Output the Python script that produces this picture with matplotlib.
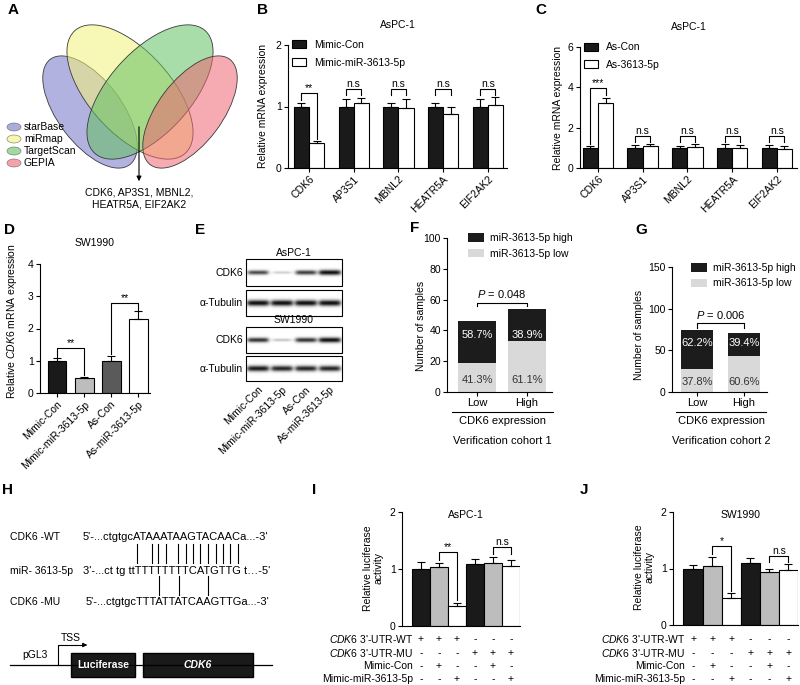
import numpy as np
import matplotlib
matplotlib.use('Agg')
import matplotlib.pyplot as plt
from matplotlib.patches import Ellipse, Rectangle, Patch
from matplotlib.transforms import blended_transform_factory

plt.rcParams['font.family'] = ['Liberation Sans', 'DejaVu Sans']
plt.rcParams['mathtext.fontset'] = 'custom'
plt.rcParams['mathtext.rm'] = 'Liberation Sans'
plt.rcParams['mathtext.it'] = 'Liberation Sans:italic'
plt.rcParams['mathtext.bf'] = 'Liberation Sans:bold'
plt.rcParams['axes.linewidth'] = 0.8

# ---- data ----
venn_sets = ['starBase', 'miRmap', 'TargetScan', 'GEPIA']
venn_colors = ['#7474c8', '#f2f27a', '#62c062', '#ef6674']
common_targets = ['CDK6, AP3S1, MBNL2,', 'HEATR5A, EIF2AK2']

genes = ['CDK6', 'AP3S1', 'MBNL2', 'HEATR5A', 'EIF2AK2']
b_con = [1.0, 1.0, 1.0, 1.0, 1.0]
b_con_err = [0.06, 0.13, 0.06, 0.06, 0.12]
b_mimic = [0.40, 1.05, 0.98, 0.88, 1.03]
b_mimic_err = [0.04, 0.09, 0.15, 0.11, 0.13]
b_sig = ['**', 'n.s', 'n.s', 'n.s', 'n.s']

c_con = [1.0, 1.0, 1.0, 1.0, 1.0]
c_con_err = [0.09, 0.13, 0.07, 0.18, 0.13]
c_as = [3.2, 1.1, 1.02, 1.0, 0.95]
c_as_err = [0.28, 0.10, 0.15, 0.15, 0.12]
c_sig = ['***', 'n.s', 'n.s', 'n.s', 'n.s']

d_groups = ['Mimic-Con', 'Mimic-miR-3613-5p', 'As-Con', 'As-miR-3613-5p']
d_vals = [1.0, 0.45, 1.0, 2.3]
d_err = [0.08, 0.06, 0.15, 0.23]

# relative band intensity per lane (western blot)
e_aspc1_cdk6 = [0.75, 0.2, 0.8, 1.0]
e_aspc1_tub = [1.0, 1.0, 1.0, 1.0]
e_sw_cdk6 = [0.85, 0.25, 0.85, 1.0]
e_sw_tub = [0.95, 0.9, 0.9, 0.9]

cohort_groups = ['Low', 'High']
f_high = [27, 21]
f_low = [19, 33]
f_pct_high = ['58.7%', '38.9%']
f_pct_low = ['41.3%', '61.1%']
g_high = [46, 28]
g_low = [28, 43]
g_pct_high = ['62.2%', '39.4%']
g_pct_low = ['37.8%', '60.6%']

i_vals = [1.0, 1.03, 0.35, 1.08, 1.1, 1.05]
i_err = [0.13, 0.07, 0.06, 0.09, 0.11, 0.11]
j_vals = [1.0, 1.04, 0.48, 1.1, 0.93, 0.97]
j_err = [0.06, 0.17, 0.09, 0.09, 0.06, 0.11]
luc_rows = [r"$\it{CDK6}$ 3'-UTR-WT", r"$\it{CDK6}$ 3'-UTR-MU", 'Mimic-Con', 'Mimic-miR-3613-5p']
luc_signs = [['+', '+', '+', '-', '-', '-'],
             ['-', '-', '-', '+', '+', '+'],
             ['-', '+', '-', '-', '+', '-'],
             ['-', '-', '+', '-', '-', '+']]

seq_names = ['CDK6 -WT', 'miR- 3613-5p', 'CDK6 -MU']
seqs = ["5'-...ctgtgcATAAATAAGTACAACa...-3'",
        "3'-...ct tg ttTTTTTTTTCATGTTG t\u2026-5'",
        "5'-...ctgtgcTTTATTATCAAGTTGa...-3'"]
pair_wt = [137, 152, 158, 166, 178, 186, 193, 200, 208, 216, 223, 230, 238]
pair_mu = [159, 179, 208]

W, H = 800, 685
fig = plt.figure(figsize=(8, 6.85), dpi=100)


def px_axes(left, top, right, bottom):
    return fig.add_axes([left / W, 1 - bottom / H, (right - left) / W, (bottom - top) / H])


def fx(x):
    return x / W


def fy(y):
    return 1 - y / H


def style(ax, ymax, step):
    ax.spines[['top', 'right']].set_visible(False)
    ax.set_ylim(0, ymax)
    ax.set_yticks(np.arange(0, ymax + step / 2, step))
    ax.spines['left'].set_bounds(0, ymax)
    ax.tick_params(direction='out', length=3, width=0.8, labelsize=7.5, pad=1.5)


def bracket(ax, x1, x2, top, left, right, label):
    ax.plot([x1, x1, x2, x2], [left, top, top, right], color='black', lw=0.8, clip_on=False)
    ax.text((x1 + x2) / 2, top, label, ha='center', va='bottom', fontsize=7.5)


def bars_err(ax, x, vals, err, colors, w):
    ax.bar(x, vals, w, color=colors, edgecolor='black', lw=0.8)
    ax.errorbar(x, vals, yerr=[np.zeros(len(vals)), err], fmt='none', ecolor='black',
                elinewidth=0.8, capsize=3, capthick=0.8)


# ---- A: Venn ----
axA = px_axes(0, 0, 262, 215)
axA.set_xlim(0, 262)
axA.set_ylim(215, 0)
axA.axis('off')
venn_geom = [((90, 112), 132, 64, 53), ((130, 92), 165, 82, 48),
             ((150, 92), 165, 82, -48), ((190, 112), 132, 64, -53)]
for (c, w, h, ang), col in zip(venn_geom, venn_colors):
    axA.add_patch(Ellipse(c, w, h, angle=ang, fc=col, ec='none', alpha=0.55))
    axA.add_patch(Ellipse(c, w, h, angle=ang, fc='none', ec='#3a3a3a', lw=0.6))
for k, (name, col) in enumerate(zip(venn_sets, venn_colors)):
    yy = [127, 139, 151, 163][k]
    axA.add_patch(Ellipse((14, yy), 14, 8, fc=col, alpha=0.6, ec='#444444', lw=0.5))
    axA.text(24, yy, name, va='center', fontsize=7.5)
axA.annotate('', xy=(139, 184), xytext=(139, 124),
             arrowprops=dict(arrowstyle='-|>', color='black', lw=0.8, mutation_scale=7))
axA.text(139, 193, common_targets[0], ha='center', va='center', fontsize=7.5)
axA.text(139, 205, common_targets[1], ha='center', va='center', fontsize=7.5)

# ---- B ----
w = 0.34
axB = px_axes(288, 45, 507, 168)
x = np.arange(len(genes))
bars_err(axB, x - w / 2, b_con, b_con_err, '#1a1a1a', w)
bars_err(axB, x + w / 2, b_mimic, b_mimic_err, 'white', w)
style(axB, 2, 1)
axB.set_xlim(-0.47, 4.43)
axB.set_xticks(x)
axB.set_xticklabels(genes, rotation=45, ha='right', rotation_mode='anchor', fontsize=7.5)
axB.set_ylabel('Relative mRNA expression', fontsize=7.5)
axB.yaxis.set_label_coords(-0.09, 0.5)
axB.set_title('AsPC-1', fontsize=7.5, pad=12)
bracket(axB, -w / 2, w / 2, 1.22, 1.1, 0.47, b_sig[0])
for k in range(1, 5):
    bracket(axB, k - w / 2, k + w / 2, 1.28, 1.18, 1.18, b_sig[k])
hb = [Patch(fc='#1a1a1a', ec='black', lw=0.8), Patch(fc='white', ec='black', lw=0.8)]
axB.legend(hb, ['Mimic-Con', 'Mimic-miR-3613-5p'], loc='upper left', bbox_to_anchor=(0.02, 1.04),
           frameon=False, fontsize=7.5, handlelength=1.3, handleheight=0.8, handletextpad=0.8,
           labelspacing=0.75, borderpad=0, borderaxespad=0)

# ---- C ----
axC = px_axes(580, 47, 797, 168)
bars_err(axC, x - w / 2, c_con, c_con_err, '#1a1a1a', w)
bars_err(axC, x + w / 2, c_as, c_as_err, 'white', w)
style(axC, 6, 2)
axC.set_xlim(-0.4, 4.45)
axC.set_xticks(x)
axC.set_xticklabels(genes, rotation=45, ha='right', rotation_mode='anchor', fontsize=7.5)
axC.set_ylabel('Relative mRNA expression', fontsize=7.5)
axC.yaxis.set_label_coords(-0.08, 0.5)
axC.set_title('AsPC-1', fontsize=7.5, pad=12)
bracket(axC, -w / 2, w / 2, 3.95, 1.2, 3.6, c_sig[0])
for k in range(1, 5):
    bracket(axC, k - w / 2, k + w / 2, 1.58, 1.3, 1.3, c_sig[k])
axC.legend(hb, ['As-Con', 'As-3613-5p'], loc='upper left', bbox_to_anchor=(0.02, 1.04),
           frameon=False, fontsize=7.5, handlelength=1.3, handleheight=0.8, handletextpad=0.8,
           labelspacing=0.75, borderpad=0, borderaxespad=0)

# ---- D ----
axD = px_axes(40, 264, 150, 393)
xd = np.arange(len(d_groups))
bars_err(axD, xd, d_vals, d_err, ['#1a1a1a', '#bdbdbd', '#5a5a5a', 'white'], 0.7)
style(axD, 4, 1)
axD.set_xlim(-0.63, 3.44)
axD.set_xticks(xd)
axD.set_xticklabels(d_groups, rotation=45, ha='right', rotation_mode='anchor', fontsize=7.5)
axD.set_ylabel(r'Relative $\it{CDK6}$ mRNA expression', fontsize=7.5)
axD.yaxis.set_label_coords(-0.19, 0.56)
axD.set_title('SW1990', fontsize=7.5, pad=13)
bracket(axD, 0, 1, 1.38, 1.12, 0.55, '**')
bracket(axD, 2, 3, 2.78, 1.2, 2.58, '**')

# ---- E: western blot ----
axE = px_axes(150, 240, 350, 420)
box_l, box_r = 246, 342
lane_x = np.linspace(258, 330, 4)


def blot(top, bottom, levels, thick):
    xs = np.linspace(box_l, box_r, 300)
    ys = np.linspace(top, bottom, 80)
    X, Y = np.meshgrid(xs, ys)
    cy = (top + bottom) / 2
    dark = np.zeros_like(X)
    for cx, lv in zip(lane_x, levels):
        hw = 8 + 2.5 * lv
        prof_x = 1 / (1 + np.exp((np.abs(X - cx) - hw) / 1.2))
        prof_y = np.exp(-((Y - cy) / (thick * (0.4 + 0.6 * lv))) ** 2)
        dark += lv * prof_x * prof_y
    axE.imshow(1 - np.clip(dark, 0, 1) * 0.95, cmap='gray', vmin=0, vmax=1,
               extent=[box_l, box_r, bottom, top], aspect='auto', interpolation='bilinear')
    axE.add_patch(Rectangle((box_l, top), box_r - box_l, bottom - top, fill=False, lw=0.8, ec='black'))


blot_rows = [(259, 286, 'CDK6', e_aspc1_cdk6, 2.6), (290, 316, '\u03b1-Tubulin', e_aspc1_tub, 3.0),
             (327, 353, 'CDK6', e_sw_cdk6, 2.6), (356, 381, '\u03b1-Tubulin', e_sw_tub, 3.0)]
for top, bottom, name, lv, th in blot_rows:
    blot(top, bottom, lv, th)
    axE.text(box_l - 3, (top + bottom) / 2, name, ha='right', va='center', fontsize=7.5)
axE.text((box_l + box_r) / 2, 253, 'AsPC-1', ha='center', va='center', fontsize=7.5)
axE.text((box_l + box_r) / 2, 320, 'SW1990', ha='center', va='center', fontsize=7.5)
for lx, name in zip(lane_x, d_groups):
    axE.text(lx + 3, 388, name, rotation=45, ha='right', va='center', rotation_mode='anchor', fontsize=7.5)
axE.set_xlim(150, 350)
axE.set_ylim(420, 240)
axE.axis('off')


# ---- F / G stacked bars ----
def cohort(ax, high, low, pct_high, pct_low, ymax, step, width, dark_y, light_y, ptxt, pb):
    xc = np.arange(2)
    ax.bar(xc, low, width, color='#d9d9d9')
    ax.bar(xc, high, width, bottom=low, color='#1c1c1c')
    style(ax, ymax, step)
    ax.set_xticks(xc)
    ax.set_xticklabels(cohort_groups, fontsize=8)
    ax.set_ylabel('Number of samples', fontsize=7.5)
    for k in range(2):
        ax.text(xc[k], dark_y, pct_high[k], ha='center', va='center', color='white', fontsize=8)
        ax.text(xc[k], light_y, pct_low[k], ha='center', va='center', color='#333333', fontsize=8)
    ax.plot([0, 0, 1, 1], [pb[1], pb[0], pb[0], pb[1]], color='black', lw=0.8)
    ax.text(0.5, pb[0] + ymax * 0.015, ptxt, ha='center', va='bottom', fontsize=8)
    hs = [Patch(fc='#1c1c1c'), Patch(fc='#d9d9d9')]
    ax.legend(hs, ['miR-3613-5p high', 'miR-3613-5p low'], loc='upper left', bbox_to_anchor=(0.2, 1.03),
              frameon=False, fontsize=7.5, handlelength=1.5, handleheight=0.9, handletextpad=0.6,
              labelspacing=0.5, borderpad=0, borderaxespad=0)


axF = px_axes(447, 238, 552, 392)
cohort(axF, f_high, f_low, f_pct_high, f_pct_low, 100, 20, 0.76, 37, 8, r'$\it{P}$ = 0.048', (58, 56))
axF.set_xlim(-0.6, 1.5)
axF.yaxis.set_label_coords(-0.2, 0.43)
axG = px_axes(672, 267, 767, 392)
cohort(axG, g_high, g_low, g_pct_high, g_pct_low, 150, 50, 0.68, 59, 12, r'$\it{P}$ = 0.006', (83, 77))
axG.set_xlim(-0.53, 1.49)
axG.yaxis.set_label_coords(-0.3, 0.46)
for (l, r, cid) in [(452, 553, 1), (676, 766, 2)]:
    fig.add_artist(plt.Line2D([fx(l), fx(r)], [fy(412), fy(412)], color='black', lw=0.8))
    fig.text(fx((l + r) / 2), fy(421), 'CDK6 expression', ha='center', va='center', fontsize=8)
    fig.text(fx((l + r) / 2), fy(441), 'Verification cohort %d' % cid, ha='center', va='center', fontsize=8)

# ---- H: sequences and construct ----
axH = px_axes(0, 480, 290, 685)
axH.set_xlim(0, 290)
axH.set_ylim(685, 480)
axH.axis('off')
for yy, name, s, sx in zip([537, 571, 602], seq_names, seqs, [83, 83, 86]):
    axH.text(10, yy, name, va='center', fontsize=7.5)
    axH.text(sx, yy, s, va='center', fontsize=8)
for px in pair_wt:
    axH.plot([px, px], [544, 563], color='black', lw=0.8)
for px in pair_mu:
    axH.plot([px, px], [576, 595], color='black', lw=0.8)
axH.plot([10, 272], [665, 665], color='black', lw=0.9)
axH.text(22, 655, 'pGL3', va='center', fontsize=7.5)
axH.plot([58, 58, 84], [665, 645, 645], color='black', lw=0.8)
axH.annotate('', xy=(90, 645), xytext=(82, 645),
             arrowprops=dict(arrowstyle='-|>', color='black', lw=0.8, mutation_scale=6))
axH.text(71, 638, 'TSS', ha='center', va='center', fontsize=7.5)
axH.add_patch(Rectangle((71, 653), 64, 24, fc='#1a1a1a', ec='black'))
axH.add_patch(Rectangle((143, 653), 110, 24, fc='#1a1a1a', ec='black'))
axH.text(103, 665, 'Luciferase', ha='center', va='center', color='white', fontsize=7.5, fontweight='bold')
axH.text(198, 665, 'CDK6', ha='center', va='center', color='white', fontsize=7.5,
         fontweight='bold', fontstyle='italic')


# ---- I / J luciferase ----
def luc(ax, vals, err, title, label_right, row_y, ylab_x):
    xl = np.arange(6)
    bars_err(ax, xl, vals, err, ['#1a1a1a', '#bdbdbd', 'white'] * 2, 1.0)
    style(ax, 2, 1)
    ax.set_xticks([])
    ax.set_xlim(-1.05, 5.5)
    ax.text(2.5, 1.95, title, ha='center', va='center', fontsize=7.5)
    ax.set_ylabel('Relative luciferase\nactivity', fontsize=7.5, linespacing=1.0)
    ax.yaxis.set_label_coords(ylab_x, 0.51)
    tr = blended_transform_factory(ax.transData, fig.transFigure)
    for r, (lab, signs) in enumerate(zip(luc_rows, luc_signs)):
        fig.text(fx(label_right), fy(row_y[r]), lab, ha='right', va='center', fontsize=7.5)
        for k, s in enumerate(signs):
            ax.text(xl[k], fy(row_y[r]), s, transform=tr, ha='center', va='center', fontsize=7.5)


axI = px_axes(402, 512, 520, 626)
luc(axI, i_vals, i_err, 'AsPC-1', 413, [639, 653, 666, 679], -0.16)
bracket(axI, 1, 2, 1.30, 1.15, 0.45, '**')
bracket(axI, 4, 5, 1.39, 1.27, 1.27, 'n.s')
axJ = px_axes(673, 512, 798, 625)
luc(axJ, j_vals, j_err, 'SW1990', 685, [639, 653, 666, 679], -0.15)
bracket(axJ, 1, 2, 1.39, 1.25, 0.6, '*')
bracket(axJ, 4, 5, 1.22, 1.12, 1.12, 'n.s')

# ---- panel letters ----
for lab, (lx, ly) in {'A': (8, 10), 'B': (257, 10), 'C': (535, 10), 'D': (4, 230), 'E': (195, 230),
                      'F': (410, 228), 'G': (635, 230), 'H': (2, 490), 'I': (312, 490), 'J': (580, 490)}.items():
    fig.text(fx(lx), fy(ly), lab, fontsize=11, fontweight='bold', va='center')

fig.savefig('out.png', dpi=100)
